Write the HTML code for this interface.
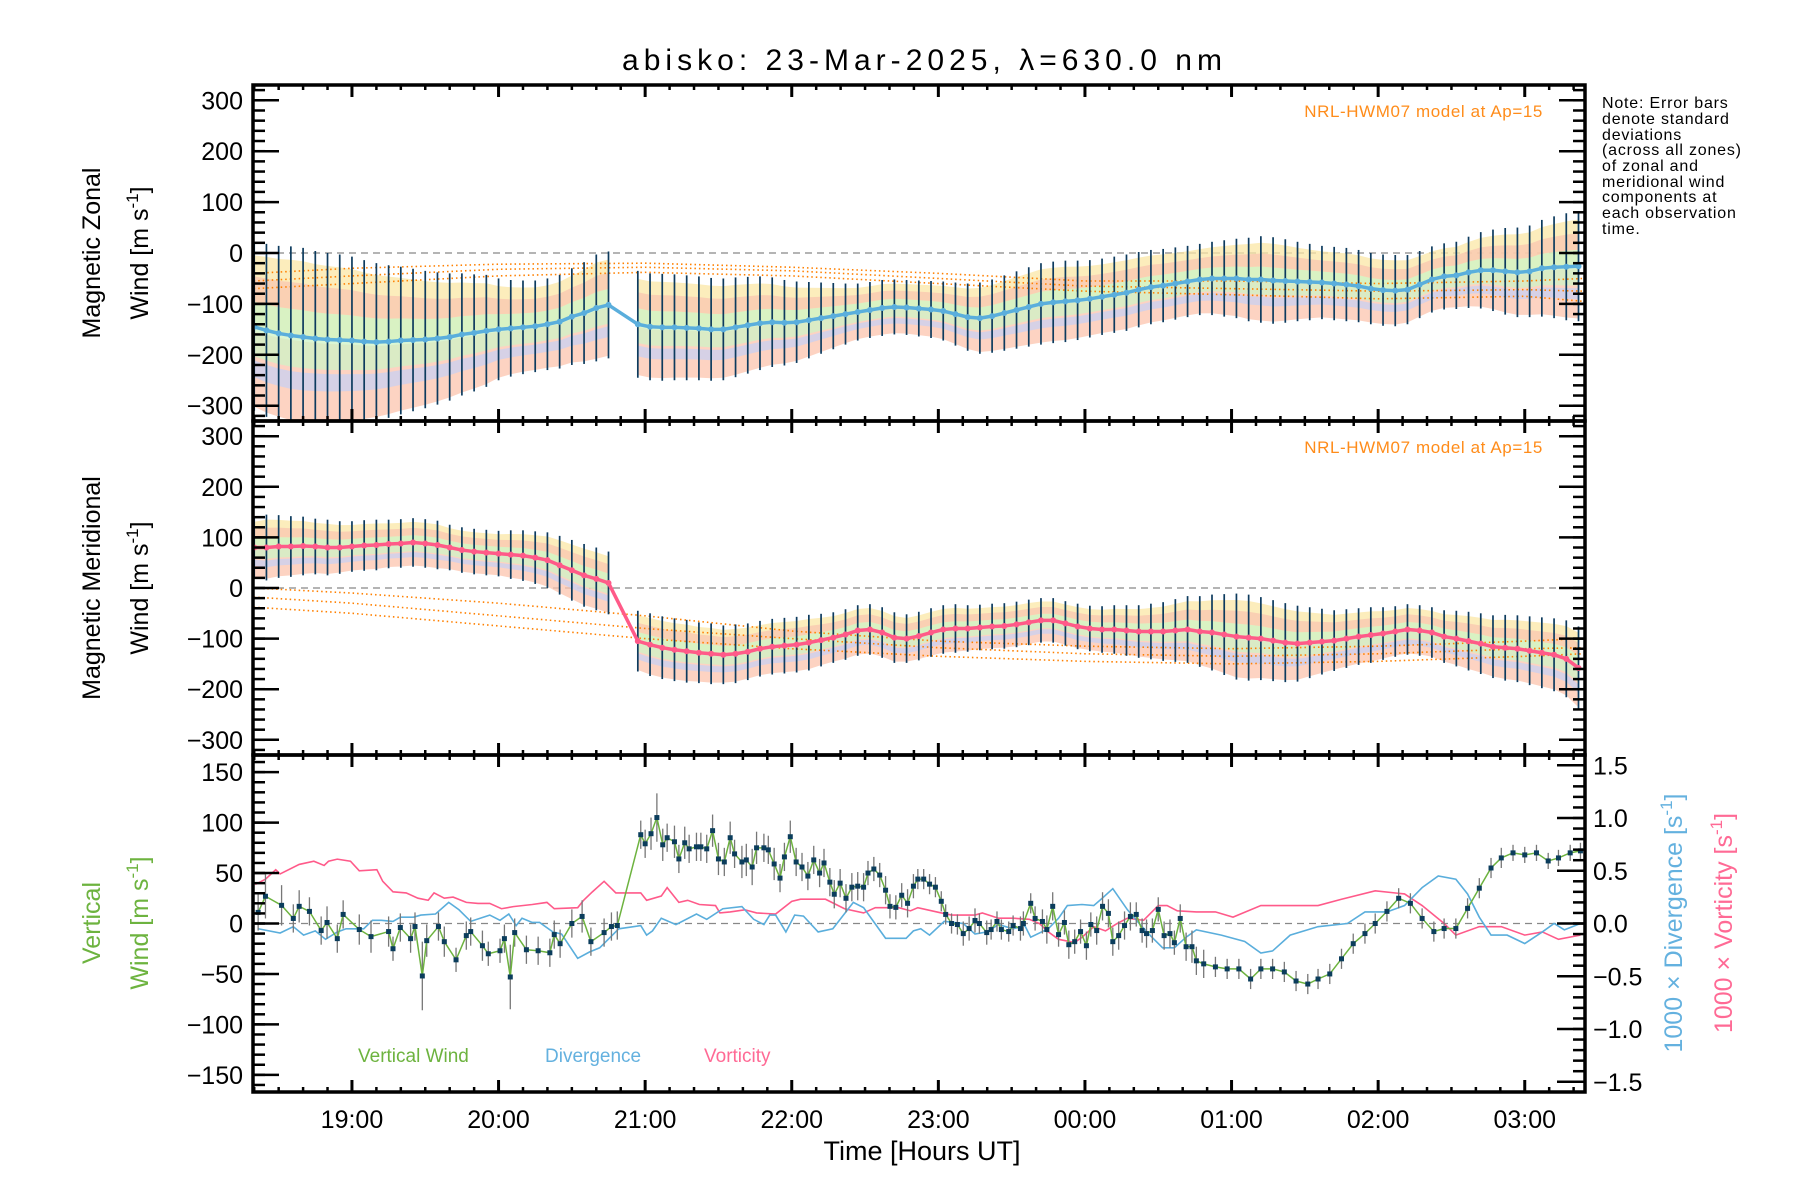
<!DOCTYPE html>
<html><head><meta charset="utf-8"><style>
html,body{margin:0;padding:0;background:#fff}
svg{display:block;font-family:"Liberation Sans","DejaVu Sans",sans-serif}
</style></head><body>
<svg id="chart" width="1800" height="1200" viewBox="0 0 1800 1200" xmlns="http://www.w3.org/2000/svg">
<rect width="1800" height="1200" fill="#fff"/>
<text x="922" y="70" font-size="30" text-anchor="middle" textLength="600">abisko: 23-Mar-2025, λ=630.0 nm</text>
<g id="g1"></g>
<g id="g2"></g>
<g id="g3"></g>
<g id="ax"></g>
<text transform="translate(100,253) rotate(-90)" font-size="25" text-anchor="middle">Magnetic Zonal</text>
<text transform="translate(148,253) rotate(-90)" font-size="25" text-anchor="middle">Wind [m s<tspan dy="-10" font-size="17">-1</tspan><tspan dy="10">]</tspan></text>
<text transform="translate(100,588) rotate(-90)" font-size="25" text-anchor="middle">Magnetic Meridional</text>
<text transform="translate(148,588) rotate(-90)" font-size="25" text-anchor="middle">Wind [m s<tspan dy="-10" font-size="17">-1</tspan><tspan dy="10">]</tspan></text>
<text transform="translate(100,923) rotate(-90)" font-size="25" text-anchor="middle" fill="#6db33f">Vertical</text>
<text transform="translate(148,923) rotate(-90)" font-size="25" text-anchor="middle" fill="#6db33f">Wind [m s<tspan dy="-10" font-size="17">-1</tspan><tspan dy="10">]</tspan></text>
<text transform="translate(1682,923) rotate(-90)" font-size="25" text-anchor="middle" fill="#64b1df">1000 × Divergence [s<tspan dy="-10" font-size="17">-1</tspan><tspan dy="10">]</tspan></text>
<text transform="translate(1732,923) rotate(-90)" font-size="25" text-anchor="middle" fill="#ff6a95">1000 × Vorticity [s<tspan dy="-10" font-size="17">-1</tspan><tspan dy="10">]</tspan></text>
<text x="922" y="1160" font-size="27" text-anchor="middle">Time [Hours UT]</text>
<text x="1543" y="117" font-size="17" letter-spacing="0.6" text-anchor="end" fill="#ff8c1a">NRL-HWM07 model at Ap=15</text>
<text x="1543" y="453" font-size="17" letter-spacing="0.6" text-anchor="end" fill="#ff8c1a">NRL-HWM07 model at Ap=15</text>
<text x="358" y="1062" font-size="19" fill="#6db33f">Vertical Wind</text>
<text x="545" y="1062" font-size="19" fill="#64b1df">Divergence</text>
<text x="704" y="1062" font-size="19" fill="#ff6a95">Vorticity</text>
<g font-size="16" letter-spacing="0.8">
<text x="1602" y="108">Note: Error bars</text><text x="1602" y="124">denote standard</text><text x="1602" y="140">deviations</text><text x="1602" y="155">(across all zones)</text><text x="1602" y="171">of zonal and</text><text x="1602" y="187">meridional wind</text><text x="1602" y="202">components at</text><text x="1602" y="218">each observation</text><text x="1602" y="234">time.</text>
</g>
</svg>
<script>
// ---- data ----
const seg1Start = 18 + 20/60, seg2Start = 20 + 57/60, stepMin = 5;
const zonalMean1 = [-145,-152,-158,-162,-165,-168,-170,-171,-172,-174,-175,-174,-172,-171,-170,-168,-165,-160,-157,-153,-150,-148,-146,-144,-140,-135,-125,-118,-108,-102];
const zonalStd1 = [165,170,172,175,175,172,170,168,165,160,155,150,145,140,135,130,125,120,115,110,100,95,92,90,90,92,95,100,105,105];
const meridMean1 = [80,80,82,82,83,82,80,80,82,84,85,87,88,90,88,85,80,75,72,70,68,66,64,60,55,45,35,25,18,10];
const meridStd1 = [60,65,62,60,58,55,55,52,50,50,50,48,48,48,48,48,45,45,45,45,45,48,50,52,55,58,60,62,62,62];
const zonalMean2 = [-140,-145,-146,-146,-147,-148,-150,-150,-146,-142,-138,-136,-137,-136,-132,-128,-124,-120,-116,-112,-108,-106,-107,-109,-111,-114,-120,-126,-128,-124,-118,-112,-106,-100,-97,-95,-93,-90,-86,-82,-78,-72,-67,-64,-60,-56,-52,-50,-50,-50,-52,-52,-54,-55,-56,-57,-58,-60,-62,-65,-70,-73,-74,-72,-62,-52,-46,-44,-38,-34,-34,-36,-38,-36,-30,-28,-27,-26];
const zonalStd2 = [105,105,105,104,103,102,101,100,98,95,92,88,84,80,75,70,65,60,56,55,55,54,54,55,56,58,62,66,70,72,74,76,78,80,80,80,78,76,75,75,75,74,73,72,71,70,70,72,75,78,82,85,85,82,78,75,72,72,72,71,70,70,70,68,66,65,65,66,70,75,80,85,88,90,95,100,105,108];
const meridMean2 = [-105,-112,-118,-122,-125,-128,-130,-132,-130,-126,-120,-116,-114,-112,-108,-103,-98,-92,-84,-82,-88,-98,-100,-95,-88,-82,-80,-80,-78,-76,-75,-72,-68,-64,-64,-70,-76,-80,-82,-82,-84,-86,-86,-86,-84,-82,-86,-88,-92,-96,-98,-100,-104,-108,-110,-108,-106,-104,-100,-96,-93,-90,-86,-82,-84,-88,-96,-100,-105,-110,-116,-118,-120,-124,-128,-132,-140,-158];
const meridStd2 = [60,62,62,62,62,60,60,58,58,56,55,55,55,55,55,52,50,50,50,50,50,50,48,48,48,48,48,46,45,45,45,45,45,44,44,44,45,45,46,48,50,52,55,58,62,66,70,75,80,85,85,82,80,78,75,70,65,60,58,56,55,52,50,50,50,50,52,55,58,60,62,65,66,68,70,72,76,82];
const modelT = [18.33,19,20,21,22,23,24,25,26,27,27.4];
const zonalModel220 = [-40,-30,-22,-20,-28,-40,-55,-55,-60,-55,-50];
const zonalModel240 = [-55,-45,-32,-28,-35,-50,-65,-70,-75,-72,-75];
const zonalModel260 = [-70,-60,-45,-38,-45,-60,-75,-82,-90,-85,-95];
const meridModel220 = [0,-10,-30,-55,-85,-105,-115,-120,-115,-105,-100];
const meridModel240 = [-18,-30,-55,-80,-100,-118,-130,-135,-130,-120,-118];
const meridModel260 = [-38,-50,-75,-100,-120,-135,-145,-150,-145,-135,-130];
const vwT = [18.36,18.41,18.52,18.60,18.64,18.71,18.79,18.83,18.90,18.94,19.05,19.13,19.25,19.28,19.33,19.40,19.43,19.48,19.51,19.59,19.63,19.71,19.78,19.81,19.89,19.93,20.01,20.04,20.08,20.11,20.19,20.27,20.35,20.38,20.42,20.50,20.57,20.63,20.72,20.77,20.81,20.97,21.00,21.04,21.08,21.12,21.15,21.20,21.23,21.27,21.30,21.35,21.38,21.42,21.46,21.50,21.54,21.58,21.61,21.66,21.69,21.73,21.76,21.81,21.84,21.88,21.92,21.95,21.99,22.03,22.07,22.11,22.15,22.19,22.22,22.26,22.29,22.33,22.37,22.41,22.45,22.49,22.52,22.56,22.60,22.64,22.67,22.71,22.75,22.79,22.83,22.86,22.90,22.94,22.98,23.02,23.05,23.09,23.13,23.17,23.21,23.25,23.28,23.33,23.36,23.40,23.43,23.48,23.51,23.56,23.58,23.63,23.66,23.71,23.74,23.78,23.82,23.86,23.89,23.93,23.97,24.01,24.04,24.08,24.12,24.16,24.19,24.23,24.27,24.31,24.35,24.39,24.42,24.46,24.50,24.54,24.58,24.61,24.65,24.69,24.73,24.76,24.81,24.89,24.97,25.05,25.13,25.20,25.28,25.36,25.44,25.52,25.59,25.67,25.75,25.83,25.91,25.98,26.06,26.14,26.22,26.30,26.38,26.45,26.53,26.61,26.69,26.77,26.84,26.92,27.00,27.08,27.16,27.23,27.31,27.38];
const vwV = [11,27,18,5,17,12,-7,1,-15,9,-6,-13,-8,-25,-4,-15,-3,-52,-17,-3,-18,-36,-12,-8,-22,-30,-27,-15,-53,-9,-26,-27,-29,-11,-20,0,7,-18,-9,-3,-2,88,79,89,105,78,85,81,64,80,74,76,76,74,92,64,61,85,69,61,63,56,75,75,73,59,45,66,86,61,56,47,63,50,60,41,29,40,25,36,37,36,50,54,48,33,17,16,28,20,37,44,44,39,36,22,9,0,-1,-10,-5,3,0,-9,-6,2,-6,-8,-2,-5,0,20,5,2,-6,17,-11,1,-21,-18,-8,-22,-1,-7,17,10,-18,-12,-2,7,9,-7,-10,-7,14,-12,-10,-19,5,-23,-23,-37,-40,-43,-45,-45,-55,-45,-45,-48,-57,-60,-55,-50,-35,-20,-10,0,12,25,20,5,-8,-5,-5,15,35,55,65,70,68,70,62,65,70,72];
const vwErr = [18,22,20,14,16,14,14,16,14,14,15,16,15,12,14,14,14,34,16,14,15,12,14,14,15,12,12,14,32,14,14,14,14,14,14,14,16,14,14,14,14,14,14,16,24,16,14,16,14,16,14,14,14,14,16,16,14,16,14,16,16,18,16,14,14,16,14,14,16,14,14,14,14,14,14,14,14,14,14,14,14,14,12,12,12,14,12,12,12,14,12,10,10,10,10,10,10,10,10,12,12,12,10,12,10,10,10,10,10,12,12,10,12,12,14,14,12,12,14,12,12,14,12,14,14,14,14,14,14,14,12,12,14,12,12,14,14,12,14,14,16,14,14,10,10,10,10,10,10,10,10,10,10,10,10,10,10,10,10,10,10,10,10,10,10,10,10,10,10,8,8,8,8,8,8,8,8];
const divT = [18.36,18.51,18.60,18.67,18.75,18.82,18.90,18.96,19.08,19.14,19.20,19.28,19.33,19.42,19.47,19.57,19.66,19.73,19.81,19.94,20.01,20.07,20.12,20.16,20.23,20.28,20.37,20.43,20.54,20.62,20.69,20.82,20.97,21.01,21.05,21.11,21.21,21.35,21.42,21.53,21.66,21.74,21.81,21.85,21.89,21.96,22.02,22.08,22.18,22.28,22.42,22.49,22.64,22.78,22.83,22.88,22.94,23.04,23.17,23.25,23.33,23.41,23.51,23.59,23.63,23.75,23.82,23.88,23.98,24.06,24.11,24.19,24.29,24.37,24.45,24.53,24.61,24.69,24.76,24.93,25.09,25.20,25.28,25.40,25.59,25.79,25.91,26.06,26.18,26.30,26.41,26.53,26.61,26.69,26.77,26.88,27.00,27.12,27.20,27.27,27.38];
const divV = [-0.05,-0.09,-0.03,-0.11,-0.07,-0.15,-0.08,-0.05,-0.05,0.03,0.03,0.02,0.06,0.06,0.08,0.09,0.20,0.13,0.02,0.08,0.03,0.09,-0.02,0.05,0.01,0.01,-0.08,-0.10,-0.33,-0.27,-0.23,-0.05,-0.02,-0.11,-0.07,0.05,-0.01,0.09,0.04,0.14,0.16,0.04,-0.01,0.08,0.08,-0.08,0.08,0.07,-0.08,-0.05,0.20,0.15,-0.14,-0.14,-0.07,-0.05,-0.11,0.02,0.00,-0.10,-0.08,-0.01,-0.05,-0.02,-0.13,-0.05,0.05,0.17,0.18,0.17,0.23,0.33,0.13,0.00,-0.12,-0.23,-0.23,-0.13,-0.06,-0.11,-0.17,-0.28,-0.26,-0.11,-0.03,0.00,0.11,0.11,0.17,0.34,0.45,0.42,0.28,0.06,-0.11,-0.11,-0.19,-0.08,0.00,-0.06,0.00];
const vortT = [18.34,18.41,18.48,18.51,18.64,18.74,18.81,18.84,18.90,18.99,19.05,19.17,19.21,19.28,19.37,19.45,19.52,19.56,19.63,19.69,19.78,19.86,19.94,20.02,20.10,20.23,20.33,20.38,20.54,20.58,20.64,20.72,20.80,20.97,21.01,21.11,21.15,21.23,21.29,21.37,21.48,21.51,21.58,21.68,21.76,21.89,22.00,22.06,22.23,22.36,22.49,22.57,22.73,22.81,22.86,23.02,23.09,23.25,23.30,23.41,23.51,23.62,23.69,23.75,23.82,23.93,23.98,24.06,24.14,24.22,24.29,24.40,24.50,24.56,24.63,24.76,24.89,25.01,25.20,25.59,25.75,25.98,26.18,26.30,26.45,26.53,26.69,26.84,27.00,27.12,27.23,27.38];
const vortV = [0.37,0.42,0.51,0.47,0.56,0.59,0.55,0.59,0.61,0.59,0.50,0.51,0.40,0.30,0.29,0.24,0.22,0.29,0.24,0.25,0.20,0.19,0.19,0.14,0.16,0.18,0.20,0.14,0.15,0.22,0.30,0.40,0.29,0.29,0.22,0.26,0.34,0.20,0.22,0.18,0.17,0.10,0.11,0.13,0.10,0.09,0.21,0.23,0.23,0.14,0.10,0.15,0.15,0.12,0.15,0.10,0.08,0.08,0.10,0.05,0.05,0.04,0.00,-0.08,-0.15,-0.18,-0.13,-0.03,-0.07,0.00,0.05,0.03,0.17,0.17,0.12,0.11,0.11,0.06,0.17,0.17,0.23,0.31,0.28,0.17,0.00,-0.11,-0.03,-0.03,-0.11,-0.08,-0.15,-0.11];
const hourLabels = ["19:00","20:00","21:00","22:00","23:00","00:00","01:00","02:00","03:00"];
const windTicks = [-300,-200,-100,0,100,200,300];
const vertTicks = [-150,-100,-50,0,50,100,150];
const rightTicks = [-1.5,-1.0,-0.5,0.0,0.5,1.0,1.5];

// ---- scales ----
const L=253,R=1585,T0=18.325,T1=27.411;
const P=[{top:85,bot:421},{top:421,bot:755},{top:755,bot:1092}];
const xs=t=>L+(t-T0)*(R-L)/(T1-T0);
const y1=v=>253-v*0.509, y2=v=>588-v*0.506, y3=v=>923.5-v*1.009, yr=v=>923.5-v*105.5;
const NS='http://www.w3.org/2000/svg';
function mk(tag,attrs,parent){const e=document.createElementNS(NS,tag);for(const k in attrs)e.setAttribute(k,attrs[k]);parent.appendChild(e);return e;}
const g1=document.getElementById('g1'),g2=document.getElementById('g2'),g3=document.getElementById('g3'),ax=document.getElementById('ax');
function segTimes(start,n){const a=[];for(let i=0;i<n;i++)a.push(start+i*stepMin/60);return a;}
const t1=segTimes(seg1Start,zonalMean1.length), t2=segTimes(seg2Start,zonalMean2.length);

const defs=mk('defs',{},document.getElementById('chart'));
P.forEach((p,i)=>{const c=mk('clipPath',{id:'c'+i},defs);mk('rect',{x:L,y:p.top,width:R-L,height:p.bot-p.top},c);});
g1.setAttribute('clip-path','url(#c0)');g2.setAttribute('clip-path','url(#c1)');g3.setAttribute('clip-path','url(#c2)');

function bands(g,ys,t,m,s,name){
  const defsB=[['#fcc4ae',-0.95,-0.05],['#fbe7a6',0.0,0.85],['#cdf3c6',-0.35,0.3],['#c8d0f2',-0.6,-0.4],['#f9c6b0',0.3,0.6]];
  defsB.forEach((b,k)=>{
    let pts=t.map((tt,i)=>xs(tt)+','+ys(m[i]+b[2]*s[i]));
    pts=pts.concat(t.map((tt,i)=>xs(tt)+','+ys(m[i]+b[1]*s[i])).reverse());
    const e=mk('polygon',{points:pts.join(' '),fill:b[0],opacity:0.75},g);
    
    
  });
}
function modelLines(g,ys,arrs,name){
  arrs.forEach(a=>{
    const e=mk('polyline',{points:modelT.map((t,i)=>xs(t)+','+ys(a[i])).join(' '),fill:'none',stroke:'#ff8000','stroke-width':1.6,'stroke-dasharray':'1.5,3'},g);
    
    
  });
}
function zeroLine(g,y){const e=mk('line',{x1:L,x2:R,y1:y,y2:y,stroke:'#888','stroke-width':1.3,'stroke-dasharray':'7,5'},g);
  
  }
function windPanel(g,ys,m1,s1,m2,s2,col,name){
  zeroLine(g,ys(0));
  bands(g,ys,t1,m1,s1,name);bands(g,ys,t2,m2,s2,name);
  modelLines(g,ys,name==='zonal'?[zonalModel220,zonalModel240,zonalModel260]:[meridModel220,meridModel240,meridModel260],name);
  [[t1,m1,s1],[t2,m2,s2]].forEach(([t,m,s])=>t.forEach((tt,i)=>{
    const e=mk('line',{x1:xs(tt),x2:xs(tt),y1:ys(m[i]-s[i]),y2:ys(m[i]+s[i]),stroke:'#0d3b5e','stroke-width':1.7},g);
    
    
  }));
  const tt=t1.concat(t2), mm=m1.concat(m2);
  const pl=mk('polyline',{points:tt.map((t,i)=>xs(t)+','+ys(mm[i])).join(' '),fill:'none',stroke:col,'stroke-width':3.5,'stroke-linejoin':'round'},g);
  
  
  tt.forEach((t,i)=>{const c=mk('circle',{cx:xs(t),cy:ys(mm[i]),r:3,fill:col},g);
    
    });
}
windPanel(g1,y1,zonalMean1,zonalStd1,zonalMean2,zonalStd2,'#5aaedc','zonal');
windPanel(g2,y2,meridMean1,meridStd1,meridMean2,meridStd2,'#ff5a88','meridional');

zeroLine(g3,y3(0));
const vl=mk('polyline',{points:vortT.map((t,i)=>xs(t)+','+yr(vortV[i])).join(' '),fill:'none',stroke:'#ff5a8a','stroke-width':1.6},g3);


const dl=mk('polyline',{points:divT.map((t,i)=>xs(t)+','+yr(divV[i])).join(' '),fill:'none',stroke:'#5aaedc','stroke-width':1.6},g3);


vwT.forEach((t,i)=>{const er=vwErr[i]||12;const e=mk('line',{x1:xs(t),x2:xs(t),y1:y3(vwV[i]-er),y2:y3(vwV[i]+er),stroke:'#777','stroke-width':1.3},g3);
  
  });
const wl=mk('polyline',{points:vwT.map((t,i)=>xs(t)+','+y3(vwV[i])).join(' '),fill:'none',stroke:'#6db33f','stroke-width':1.5},g3);


vwT.forEach((t,i)=>{const r=mk('rect',{x:xs(t)-2.5,y:y3(vwV[i])-2.5,width:5,height:5,fill:'#0b3d5c'},g3);
  
  });

P.forEach((p,pi)=>{
  const fr=mk('rect',{x:L,y:p.top,width:R-L,height:p.bot-p.top,fill:'none',stroke:'#000','stroke-width':3.5},ax);
  
  
  for(let m=0;;m++){const t=Math.ceil(T0*6)/6+m/6; if(t>T1)break;
    const x=xs(t), major=Math.abs(t*6-Math.round(t)*6)<0.01, len=major?12:5, w=major?3:2.5;
    mk('line',{x1:x,x2:x,y1:p.top,y2:p.top+len,stroke:'#000','stroke-width':w},ax);
    mk('line',{x1:x,x2:x,y1:p.bot,y2:p.bot-len,stroke:'#000','stroke-width':w},ax);}
  let ys,minStep,majors,lo,hi;
  if(pi<2){ys=pi===0?y1:y2;minStep=20;majors=windTicks;lo=-320;hi=320;}else{ys=y3;minStep=10;majors=vertTicks;lo=-160;hi=160;}
  for(let v=lo;v<=hi;v+=minStep){const y=ys(v);if(y<p.top+2||y>p.bot-2)continue;
    mk('line',{x1:L,x2:L+12,y1:y,y2:y,stroke:'#000','stroke-width':2.5},ax);
    if(pi<2)mk('line',{x1:R,x2:R-12,y1:y,y2:y,stroke:'#000','stroke-width':2.5},ax);}
  majors.forEach(v=>{const y=ys(v);
    mk('line',{x1:L,x2:L+26,y1:y,y2:y,stroke:'#000','stroke-width':2.5},ax);
    if(pi<2)mk('line',{x1:R,x2:R-26,y1:y,y2:y,stroke:'#000','stroke-width':2.5},ax);
    const tx=mk('text',{x:243,y:y+9,'font-size':25,'text-anchor':'end'},ax);tx.textContent=(v<0?'\u2212'+(-v):String(v));
    
    });
});
for(let k=-16;k<=16;k++){const v=k/10,y=yr(v);if(y<P[2].top+2||y>P[2].bot-2)continue;
  mk('line',{x1:R,x2:R-12,y1:y,y2:y,stroke:'#000','stroke-width':2.5},ax);}
rightTicks.forEach(v=>{const y=yr(v);mk('line',{x1:R,x2:R-28,y1:y,y2:y,stroke:'#000','stroke-width':2.5},ax);
  const tx=mk('text',{x:1593,y:y+9,'font-size':25},ax);tx.textContent=(v<0?'\u2212':'')+Math.abs(v).toFixed(1);
  
  });
hourLabels.forEach((lab,i)=>{const tx=mk('text',{x:xs(19+i),y:1128,'font-size':25,'text-anchor':'middle'},ax);tx.textContent=lab;
  
  });
</script>
</body></html>
